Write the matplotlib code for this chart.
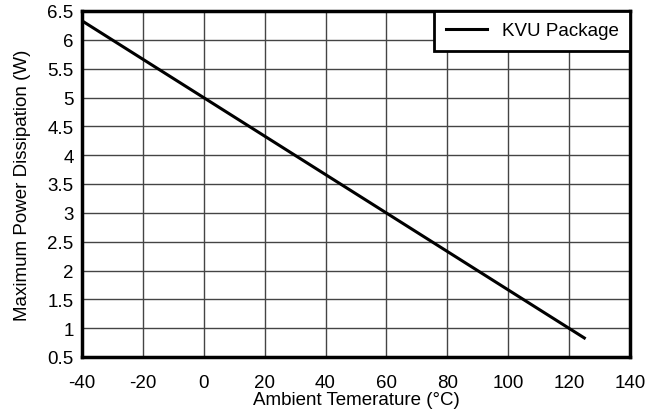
import matplotlib.pyplot as plt

plt.rcParams['font.family'] = ['Liberation Sans', 'DejaVu Sans']

# derating curve, KVU package
temp = [-40, 125]
power = [6.33, 0.83]
xticks = [-40, -20, 0, 20, 40, 60, 80, 100, 120, 140]
yticks = [0.5, 1, 1.5, 2, 2.5, 3, 3.5, 4, 4.5, 5, 5.5, 6, 6.5]

fs = 13.5
fig = plt.figure(figsize=(6.48, 4.14), dpi=100)
ax = fig.add_axes([82 / 648, 1 - 358 / 414, (630 - 82) / 648, (358 - 12) / 414])

ax.plot(temp, power, color="black", lw=2.2, label="KVU Package")
ax.set_xlim(-40, 140)
ax.set_ylim(0.5, 6.5)
ax.set_xticks(xticks)
ax.set_yticks(yticks)
ax.set_xticklabels([str(t) for t in xticks])
ax.set_yticklabels([f"{t:g}" for t in yticks])
ax.grid(True, color="#444444", lw=1.0)
ax.tick_params(axis="x", length=0, labelsize=fs, pad=12)
ax.tick_params(axis="y", length=0, labelsize=fs, pad=6)
for s in ax.spines.values():
    s.set_linewidth(2.5)

ax.set_xlabel("Ambient Temerature (°C)", fontsize=fs, labelpad=0)
ax.set_ylabel("Maximum Power Dissipation (W)", fontsize=fs, labelpad=12)

leg = ax.legend(loc="upper right", fontsize=fs, fancybox=False, framealpha=1,
                borderaxespad=0, handlelength=2.2, borderpad=0.6)
leg.get_frame().set_edgecolor("black")
leg.get_frame().set_linewidth(2)

fig.savefig("out.png", dpi=100)
